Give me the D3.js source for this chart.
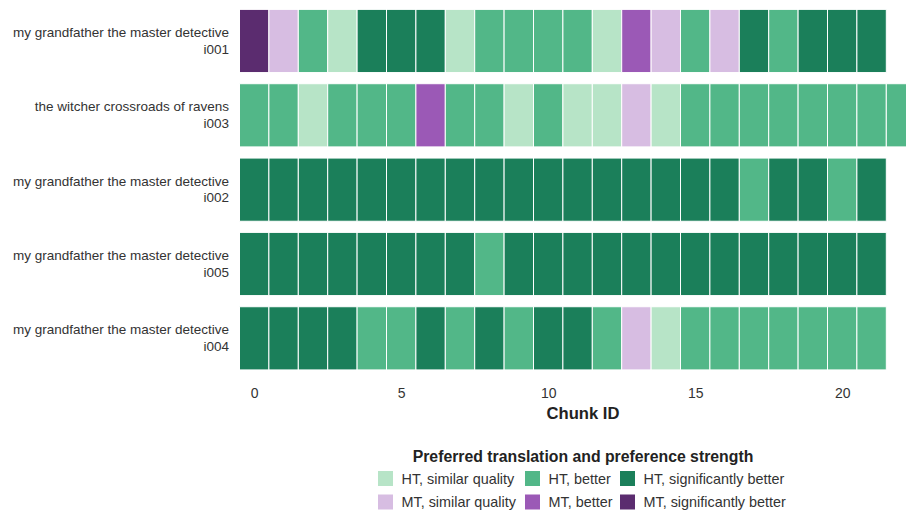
<!DOCTYPE html>
<html><head><meta charset="utf-8">
<script src="https://cdn.jsdelivr.net/npm/d3@7/dist/d3.min.js"></script>
<style>body{margin:0;background:#fff}svg{display:block}text{font-family:"Liberation Sans",Arial,sans-serif}</style>
</head><body>
<svg id="c" width="906" height="510"></svg>
<script>
const rowTitles = ["my grandfather the master detective","the witcher crossroads of ravens","my grandfather the master detective","my grandfather the master detective","my grandfather the master detective"];
const rowIds = ["i001","i003","i002","i005","i004"];
const prefLabels = ["HT, similar quality","HT, better","HT, significantly better","MT, similar quality","MT, better","MT, significantly better"];
const prefColors = ["#b7e4c7","#52b788","#1b7f5a","#d7bde2","#9b59b6","#5b2c6f"];
// codes: h1=HT similar, h2=HT better, h3=HT significantly better, m1/m2/m3 same for MT
const prefCodes = ["h1","h2","h3","m1","m2","m3"];
const i001 = ["m3","m1","h2","h1","h3","h3","h3","h1","h2","h2","h2","h2","h1","m2","m1","h2","m1","h3","h2","h3","h3","h3"];
const i003 = ["h2","h2","h1","h2","h2","h2","m2","h2","h2","h1","h2","h1","h1","m1","h1","h2","h2","h2","h2","h2","h2","h2","h2"];
const i002 = ["h3","h3","h3","h3","h3","h3","h3","h3","h3","h3","h3","h3","h3","h3","h3","h3","h3","h2","h3","h3","h2","h3"];
const i005 = ["h3","h3","h3","h3","h3","h3","h3","h3","h2","h3","h3","h3","h3","h3","h3","h3","h3","h3","h3","h3","h3","h3"];
const i004 = ["h3","h3","h3","h3","h2","h2","h3","h2","h3","h2","h3","h3","h2","m1","h1","h2","h2","h2","h2","h2","h2","h2"];
const xTicks = [0,5,10,15,20];
const rowsData = {i001, i003, i002, i005, i004};

const svg = d3.select("#c");
const x = d3.scaleLinear().domain([-0.5,21.5]).range([239.5,886.3]);
const y = d3.scaleBand().domain(rowIds).range([3.8,375.5]).paddingInner(0.15).paddingOuter(0.075);
const color = d3.scaleOrdinal().domain(prefCodes).range(prefColors);
const w = x(1)-x(0);

const cells = [];
rowIds.forEach(id => rowsData[id].forEach((c,i) => cells.push({id, chunk:i, c})));
svg.append("g").selectAll("rect").data(cells).join("rect")
  .attr("x", d => x(d.chunk) - w/2).attr("y", d => y(d.id))
  .attr("width", w).attr("height", y.bandwidth())
  .attr("fill", d => color(d.c)).attr("stroke","#fff").attr("stroke-width",1);

// y labels
const yl = svg.append("g");
rowIds.forEach((id,i) => {
  const cy = y(id) + y.bandwidth()/2;
  const t = yl.append("text").attr("text-anchor","end").attr("font-size",13.5).attr("fill","#333");
  t.append("tspan").attr("x",229).attr("y",cy-4).text(rowTitles[i]);
  t.append("tspan").attr("x",229).attr("y",cy+12.8).text(id);
});

// x axis
const xa = svg.append("g").attr("transform","translate(0,380)")
  .call(d3.axisBottom(x).tickValues(xTicks).tickSize(0).tickPadding(8));
xa.select(".domain").remove();
xa.selectAll("text").attr("font-size",14).attr("fill","#333").attr("font-family","Liberation Sans, Arial, sans-serif");
svg.append("text").attr("x",583).attr("y",419).attr("text-anchor","middle")
  .attr("font-size",16.6).attr("font-weight","bold").attr("fill","#222").text("Chunk ID");

// legend
svg.append("text").attr("x",583).attr("y",461.5).attr("text-anchor","middle")
  .attr("font-size",15.8).attr("font-weight","bold").attr("fill","#222").text("Preferred translation and preference strength");
const colX = [378,525,620];
prefCodes.forEach((c,i) => {
  const r = Math.floor(i/3), col = i%3;
  const cy = 478.5 + r*23.5;
  svg.append("rect").attr("x",colX[col]).attr("y",cy-7.5).attr("width",15).attr("height",15).attr("fill",color(c));
  svg.append("text").attr("x",colX[col]+23.5).attr("y",cy+5).attr("font-size",14.4).attr("fill","#333").text(prefLabels[i]);
});
</script>
</body></html>
